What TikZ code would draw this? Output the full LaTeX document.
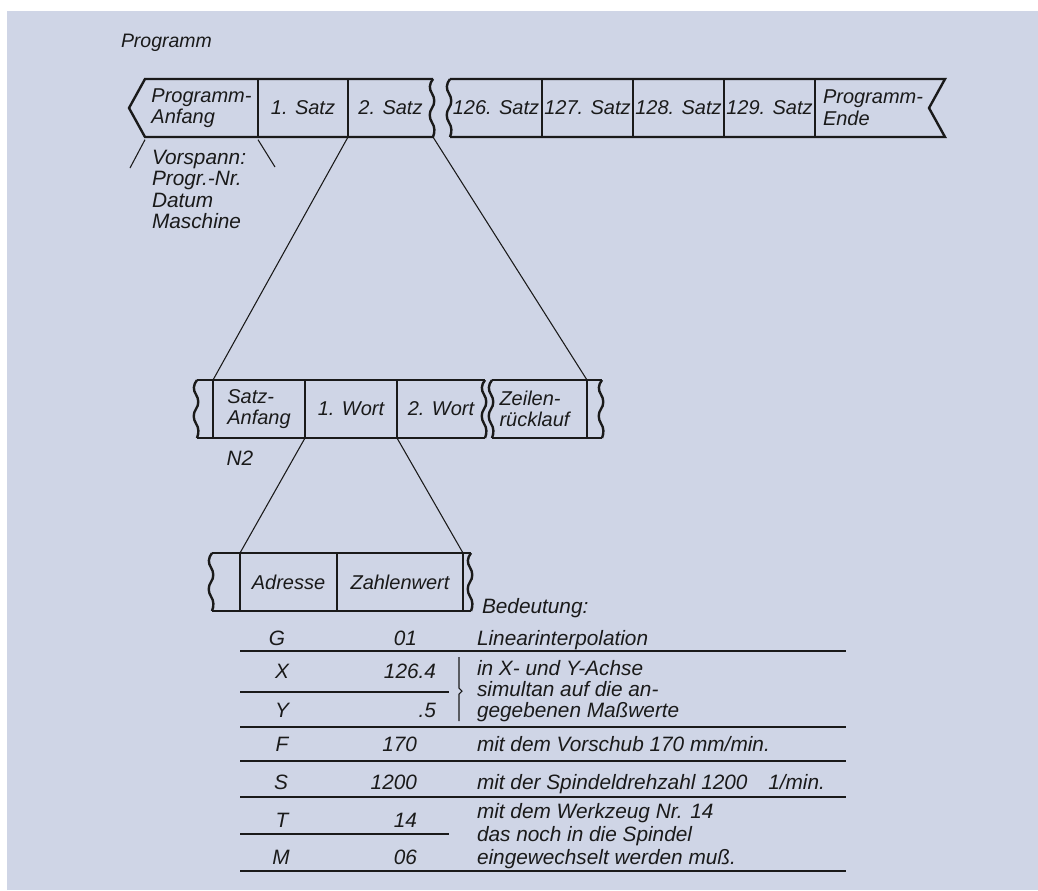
\documentclass[tikz,border=0pt]{standalone}
\usepackage{fontspec}
\setmainfont{Liberation Sans}
\definecolor{panelc}{HTML}{CFD5E6}
\definecolor{inkc}{HTML}{1A1A1A}
\begin{document}
\begin{tikzpicture}[x=0.75pt,y=-0.75pt,
  txt/.style={font=\itshape\fontsize{15.6}{16.1}\selectfont, text=inkc, inner sep=0pt, outer sep=0pt},
  celltxt/.style={font=\itshape\fontsize{15}{16.2}\selectfont},
  cellbox/.style={txt, celltxt, anchor=north west, minimum height=58*0.75pt, align=center},
  wpx/.style={minimum width=#1*0.75pt},
  bandline/.style={draw=inkc, line width=1.8pt, line join=miter},
  connline/.style={draw=inkc, line width=0.8pt},
  tabline/.style={draw=inkc, line width=1.3pt},
  brk/.pic={\draw[bandline] (0,0) .. controls (-4,5) and (-4,10) .. (-1,14.5) .. controls (2,19) and (2,25) .. (-1,29) .. controls (-4,33) and (-4,39) .. (-1,43.5) .. controls (2,48) and (2,53) .. (0,58);},
]
\fill[white] (0,0) rectangle (1038,890);
\fill[panelc] (7,11) rectangle (1038,890);

% title
\node[txt, font=\itshape\fontsize{14.6}{16}\selectfont, anchor=base west] (title) at (121,47) {Programm};

% ---------- top band (y 79..137)
\node[cellbox, wpx=113, align=left] (pa) at (145,79) {Programm-\\Anfang};
\node[cellbox, wpx=90] (s1) at (258,79) {1. Satz};
\node[cellbox, wpx=85] (s2) at (348,79) {2. Satz};
\node[cellbox, wpx=92] (s126) at (450,79) {126. Satz};
\node[cellbox, wpx=91] (s127) at (542,79) {127. Satz};
\node[cellbox, wpx=91] (s128) at (633,79) {128. Satz};
\node[cellbox, wpx=91] (s129) at (724,79) {129. Satz};
\node[cellbox, wpx=116, align=left] (pe) at (815,79) {Programm-\\Ende};
\coordinate (tipL) at (129,108);
\coordinate (peNE) at (945,79);
\coordinate (notch) at (929,108);
\coordinate (peSE) at (945,137);

\draw[bandline] (s2.north east) -- (pa.north west) -- (tipL) -- (pa.south west) -- (s2.south east);
\draw[bandline] (pa.north east) -- (pa.south east) (s1.north east) -- (s1.south east);
\pic at (s2.north east) {brk};
\draw[bandline] (s126.north west) -- (peNE) -- (notch) -- (peSE) -- (s126.south west);
\draw[bandline] (s126.north east) -- (s126.south east) (s127.north east) -- (s127.south east)
  (s128.north east) -- (s128.south east) (s129.north east) -- (s129.south east);
\pic at (s126.north west) {brk};

% Vorspann
\coordinate (slA) at (130,168);
\coordinate (slB) at (275,167);
\draw[connline] ([yshift=-2pt]pa.south west) -- (slA);
\draw[connline] ([yshift=-2pt]pa.south east) -- (slB);
\node[txt, anchor=north west, align=left] (vs) at (152,150) {Vorspann:\\Progr.-Nr.\\Datum\\Maschine};

% ---------- middle band (y 380..438)
\node[cellbox, wpx=16] (e1) at (197,380) {};
\node[cellbox, wpx=92, align=left] (sa) at (213,380) {Satz-\\Anfang};
\node[cellbox, wpx=92] (w1) at (305,380) {1. Wort};
\node[cellbox, wpx=88] (w2) at (397,380) {2. Wort};
\node[cellbox, wpx=95, text width=80*0.75pt, align=left] (zr) at (492,380) {Zeilen-\\rücklauf};
\node[cellbox, wpx=15] (e2) at (587,380) {};

\draw[bandline] (e1.north west) -- (w2.north east) (e1.south west) -- (w2.south east);
\draw[bandline] (e1.north east) -- (e1.south east) (sa.north east) -- (sa.south east) (w1.north east) -- (w1.south east);
\pic at (e1.north west) {brk};
\pic at (w2.north east) {brk};
\draw[bandline] (zr.north west) -- (e2.north east) (zr.south west) -- (e2.south east);
\draw[bandline] (zr.north east) -- (zr.south east);
\pic at (zr.north west) {brk};
\pic at (e2.north east) {brk};

\node[txt, anchor=base] (n2) at (240,465) {N2};

\draw[connline] (s1.south east) -- (sa.north west);
\draw[connline] (s2.south east) -- (zr.north east);

% ---------- bottom band (y 553..611)
\node[cellbox, wpx=28] (e3) at (212,553) {};
\node[cellbox, wpx=97] (ad) at (240,553) {Adresse};
\node[cellbox, wpx=126] (zw) at (337,553) {Zahlenwert};
\node[cellbox, wpx=8] (e4) at (463,553) {};

\draw[bandline] (e3.north west) -- (e4.north east) (e3.south west) -- (e4.south east);
\draw[bandline] (e3.north east) -- (e3.south east) (ad.north east) -- (ad.south east) (zw.north east) -- (zw.south east);
\pic at (e3.north west) {brk};
\pic at (e4.north east) {brk};

\draw[connline] (sa.south east) -- (ad.north west);
\draw[connline] (w1.south east) -- (zw.north east);

\node[txt, anchor=base west] (bed) at (482,613) {Bedeutung:};

% ---------- table
\node[txt, anchor=base] (tG) at (277,645) {G};
\node[txt, anchor=base east] (vG) at (417,645) {01};
\node[txt, anchor=base west] (dG) at (477,645) {Linearinterpolation};
\draw[tabline] (240,651) -- (846,651);

\node[txt, anchor=base] (tX) at (282,678) {X};
\node[txt, anchor=base east] (vX) at (436,678) {126.4};
\draw[tabline] (240,692) -- (449,692);
\node[txt, anchor=base] (tY) at (282,717) {Y};
\node[txt, anchor=base east] (vY) at (436,717) {.5};
\draw[connline] (459,657) -- (459,688) -- (462,691) -- (459,694) -- (459,721);
\node[txt, anchor=base west] (dX1) at (477,675) {in X- und Y-Achse};
\node[txt, anchor=base west] (dX2) at (477,696) {simultan auf die an-};
\node[txt, anchor=base west] (dX3) at (477,717) {gegebenen Maßwerte};
\draw[tabline] (240,727) -- (846,727);

\node[txt, anchor=base] (tF) at (282,751) {F};
\node[txt, anchor=base east] (vF) at (417,751) {170};
\node[txt, anchor=base west] (dF) at (477,751) {mit dem Vorschub 170 mm/min.};
\draw[tabline] (240,761) -- (846,761);

\node[txt, anchor=base] (tS) at (281,789) {S};
\node[txt, anchor=base east] (vS) at (417,789) {1200};
\node[txt, anchor=base west] (dS) at (477,789) {mit der Spindeldrehzahl 1200\quad 1/min.};
\draw[tabline] (240,797) -- (846,797);

\node[txt, anchor=base] (tT) at (282,827) {T};
\node[txt, anchor=base east] (vT) at (417,827) {14};
\draw[tabline] (240,834) -- (449,834);
\node[txt, anchor=base] (tM) at (281,864) {M};
\node[txt, anchor=base east] (vM) at (417,864) {06};
\node[txt, anchor=base west] (dT1) at (477,818) {mit dem Werkzeug Nr. 14};
\node[txt, anchor=base west] (dT2) at (477,841) {das noch in die Spindel};
\node[txt, anchor=base west] (dT3) at (477,864) {eingewechselt werden muß.};
\draw[tabline] (240,871) -- (846,871);
\end{tikzpicture}
\end{document}
